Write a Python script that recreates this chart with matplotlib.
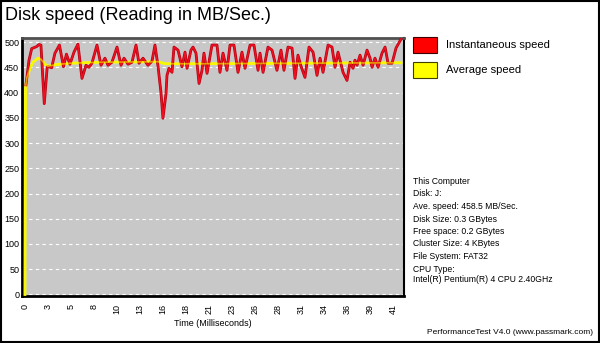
import matplotlib
matplotlib.use('Agg')
import matplotlib.pyplot as plt
from matplotlib.patches import Rectangle

plt.rcParams['font.family'] = ['Liberation Sans', 'DejaVu Sans']

# Instantaneous speed (MB/Sec.) at the vertices of the red trace
inst_time = [0.11, 0.45, 0.75, 1.30, 1.56, 1.78, 2.15, 2.48, 2.71, 2.97,
             3.34, 3.84, 4.29, 4.62, 5.01, 5.46, 5.90, 6.35, 6.80, 7.13,
             7.46, 8.02, 8.47, 8.91, 9.25, 9.69, 10.25, 10.70, 11.03, 11.48,
             11.92, 12.37, 12.70, 13.15, 13.70, 14.15, 14.48, 14.82, 15.15, 15.37,
             15.71, 15.82, 16.04, 16.38, 16.60, 17.05, 17.49, 17.83, 18.05, 18.49,
             18.72, 19.05, 19.39, 19.72, 19.94, 20.28, 20.83, 21.39, 21.72, 22.06,
             22.50, 22.84, 23.28, 23.73, 24.17, 24.51, 25.07, 25.51, 25.96, 26.18,
             26.52, 27.07, 27.52, 28.07, 28.52, 28.85, 29.30, 29.75, 30.08, 30.41,
             30.75, 31.19, 31.64, 32.09, 32.53, 32.87, 33.20, 33.76, 34.20, 34.54,
             34.87, 35.43, 35.87, 36.21, 36.54, 36.76, 36.99, 37.32, 37.66, 38.10,
             38.44, 38.66, 38.99, 39.33, 39.77, 40.11, 40.44, 40.89, 41.33, 41.89]
inst_speed = [415, 464, 487, 491, 495, 494, 378, 451, 451, 449,
              478, 494, 451, 476, 456, 480, 496, 428, 454, 450,
              458, 494, 454, 468, 454, 460, 490, 454, 468, 456,
              460, 494, 458, 468, 454, 462, 494, 452, 400, 349,
              398, 434, 448, 440, 490, 484, 451, 480, 448, 484,
              490, 478, 418, 444, 478, 438, 494, 494, 440, 478,
              444, 494, 494, 440, 480, 448, 494, 494, 444, 478,
              440, 490, 484, 444, 484, 444, 490, 488, 428, 474,
              452, 430, 490, 480, 434, 468, 440, 494, 490, 450,
              480, 440, 424, 460, 448, 464, 454, 474, 454, 484,
              468, 450, 468, 450, 478, 490, 458, 458, 488, 506]

# Average speed
avg_time = [0.0, 0.06, 0.22, 0.56, 0.89, 1.45, 1.78, 2.23, 2.56, 3.34,
            5.01, 8.36, 14.82, 15.60, 19.50, 30.64, 41.89]
avg_speed = [0, 410, 430, 448, 460, 468, 466, 456, 452, 455,
             458, 460, 461, 457, 457, 458, 459]

x_labels = ['0', '3', '5', '8', '10', '13', '16', '18', '21', '23',
            '26', '28', '31', '34', '36', '39', '41']
y_ticks = [0, 50, 100, 150, 200, 250, 300, 350, 400, 450, 500]

info_lines = ['This Computer', 'Disk: J:', 'Ave. speed: 458.5 MB/Sec.',
              'Disk Size: 0.3 GBytes', 'Free space: 0.2 GBytes',
              'Cluster Size: 4 KBytes', 'File System: FAT32', 'CPU Type:',
              'Intel(R) Pentium(R) 4 CPU 2.40GHz']

fig = plt.figure(figsize=(6, 3.43), dpi=100)
fig.patch.set_facecolor('white')
ax = fig.add_axes([22/600, 1 - 296/343, 382/600, 258/343])
ax.set_facecolor('#c8c8c8')

ax.plot(avg_time, avg_speed, color='#ffff00', lw=2.0, zorder=3)
ax.plot(inst_time, inst_speed, color='#b00010', lw=2.0, zorder=4)
ax.plot(inst_time, inst_speed, color='#f01020', lw=1.1, zorder=5)
# yellow shows through the red where they cross, like the original
ax.plot(avg_time, avg_speed, color='#f4f000', lw=1.2, zorder=6, alpha=0.6)

ax.set_xlim(-0.33, 42.22)
ax.set_ylim(-3, 508)

tick_pos = [i * 41 / 16 for i in range(len(x_labels))]
ax.set_xticks(tick_pos)
ax.set_xticklabels(x_labels, rotation=90, fontsize=6.5)
ax.set_yticks(y_ticks)
ax.set_yticklabels([str(v) for v in y_ticks], fontsize=6.5)
ax.tick_params(length=0)
ax.tick_params(axis='x', pad=6)
ax.tick_params(axis='y', pad=2)

ax.yaxis.grid(True, color='white', linestyle=(0, (3, 3)), lw=0.8)
ax.set_axisbelow(True)

for side in ['left', 'bottom']:
    ax.spines[side].set_linewidth(2)
    ax.spines[side].set_color('black')
ax.spines['top'].set_linewidth(2)
ax.spines['top'].set_color('#505050')
ax.spines['right'].set_linewidth(1.5)
ax.spines['right'].set_color('black')

ax.set_xlabel('Time (Milliseconds)', fontsize=6.5, labelpad=3)

fig.text(5/600, 1 - 15/343, 'Disk speed (Reading in MB/Sec.)', fontsize=13,
         va='center', ha='left')

# legend boxes
fig.patches.append(Rectangle((413/600, 1 - 53/343), 24/600, 16/343,
                             transform=fig.transFigure, facecolor='#ff0000',
                             edgecolor='#400000', lw=0.8))
fig.patches.append(Rectangle((413/600, 1 - 78/343), 24/600, 16/343,
                             transform=fig.transFigure, facecolor='#ffff00',
                             edgecolor='#404000', lw=0.8))
fig.text(446/600, 1 - 45/343, 'Instantaneous speed', fontsize=8, va='center')
fig.text(446/600, 1 - 70/343, 'Average speed', fontsize=8, va='center')

line_y = [181.5, 194, 206.5, 219, 231.5, 244, 256.5, 269, 279]
for txt, yy in zip(info_lines, line_y):
    fig.text(413/600, 1 - yy/343, txt, fontsize=6.2, va='center')

fig.text(593/600, 1 - 333/343, 'PerformanceTest V4.0 (www.passmark.com)',
         fontsize=6, va='center', ha='right')

# outer frame of the image
fig.patches.append(Rectangle((0.5/600, 1.5/343), 598.5/600, 340.5/343,
                             transform=fig.transFigure, fill=False,
                             edgecolor='black', lw=1.5))

fig.savefig('out.png', dpi=100)
